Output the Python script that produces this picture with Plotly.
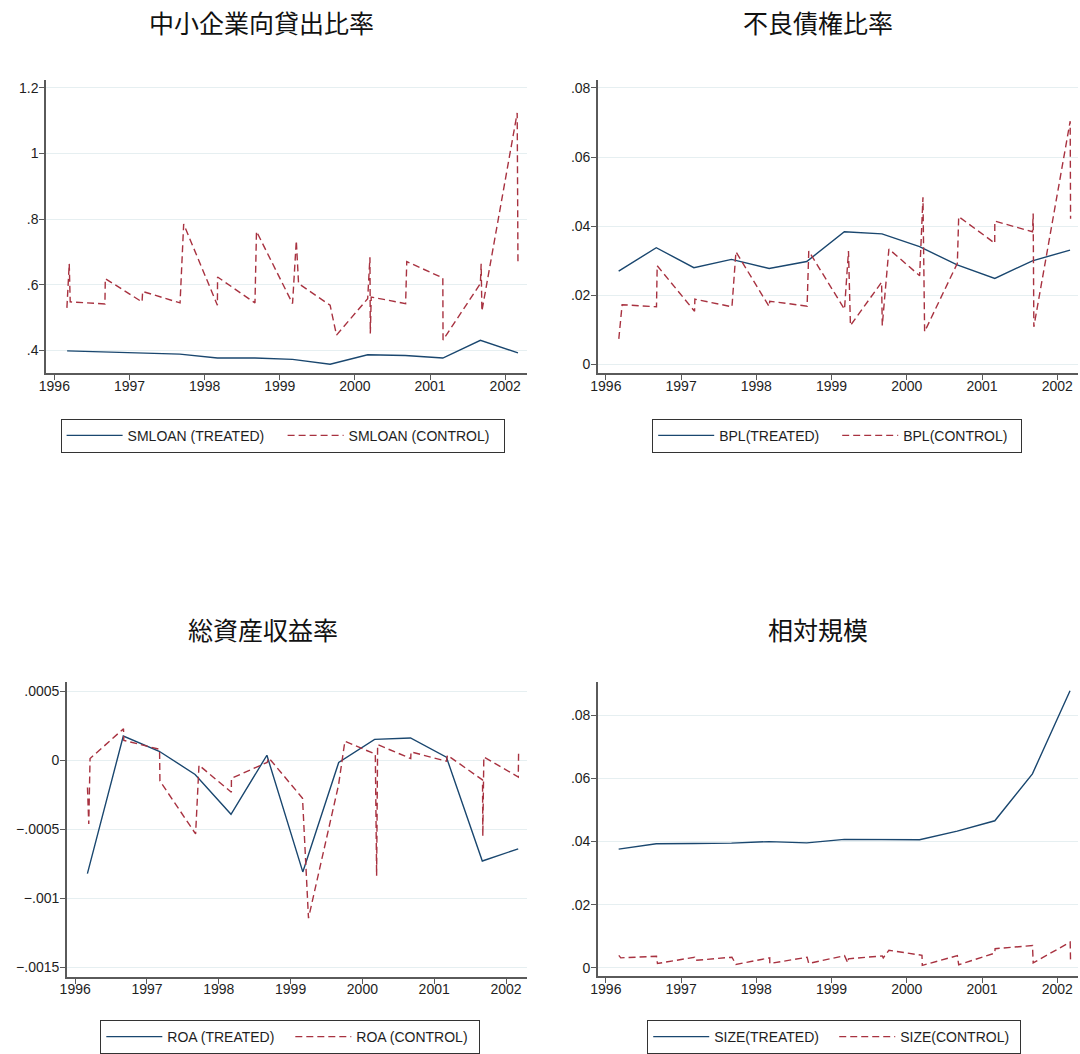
import plotly.graph_objects as go

# ---- data -------------------------------------------------------------
years = [1996, 1997, 1998, 1999, 2000, 2001, 2002]
year_labels = ["1996", "1997", "1998", "1999", "2000", "2001", "2002"]

t_treated = [1996.17, 1996.67, 1997.17, 1997.67, 1998.17, 1998.67, 1999.17,
             1999.67, 2000.17, 2000.67, 2001.17, 2001.67, 2002.17]

# Small and medium enterprise loan ratio
smloan_treated = [0.399, 0.396, 0.392, 0.389, 0.377, 0.377, 0.373,
                  0.358, 0.387, 0.385, 0.377, 0.431, 0.393]
smloan_control_t = [1996.167, 1996.198, 1996.211, 1996.673, 1996.678, 1997.167, 1997.175,
                    1997.673, 1997.721, 1998.170, 1998.172, 1998.670, 1998.690, 1999.170,
                    1999.220, 1999.250, 1999.670, 1999.755, 2000.170, 2000.200, 2000.205,
                    2000.217, 2000.675, 2000.690, 2001.170, 2001.173, 2001.670, 2001.680,
                    2001.690, 2002.160, 2002.170]
smloan_control = [0.530, 0.664, 0.548, 0.542, 0.619, 0.548, 0.580,
                  0.545, 0.785, 0.538, 0.624, 0.545, 0.763, 0.543,
                  0.735, 0.604, 0.538, 0.447, 0.558, 0.684, 0.452,
                  0.563, 0.543, 0.671, 0.621, 0.432, 0.604, 0.664,
                  0.520, 1.124, 0.664]

# Bad loan ratio
bpl_treated = [0.0270, 0.0338, 0.0280, 0.0304, 0.0278, 0.0298, 0.0384,
               0.0378, 0.0341, 0.0288, 0.0249, 0.0300, 0.0331]
bpl_control_t = [1996.172, 1996.216, 1996.673, 1996.682, 1997.179, 1997.183, 1997.676,
                 1997.729, 1998.169, 1998.178, 1998.675, 1998.697, 1999.172, 1999.225,
                 1999.251, 1999.665, 1999.674, 1999.762, 2000.171, 2000.215, 2000.237,
                 2000.672, 2000.690, 2001.169, 2001.170, 2001.671, 2001.680, 2001.689,
                 2002.172, 2002.177]
bpl_control = [0.0074, 0.0173, 0.0167, 0.0286, 0.0154, 0.0189, 0.0167,
               0.0326, 0.0168, 0.0183, 0.0169, 0.0328, 0.0160, 0.0328,
               0.0113, 0.0238, 0.0113, 0.0334, 0.0257, 0.0484, 0.0095,
               0.0293, 0.0428, 0.0351, 0.0415, 0.0384, 0.0437, 0.0109,
               0.0704, 0.0422]

# Return on assets
roa_treated = [-0.000819, 0.000177, 0.000067, -0.000101, -0.000390, 0.000038, -0.000807,
               -0.000014, 0.000153, 0.000163, 0.000024, -0.000728, -0.000640]
roa_control_t = [1996.171, 1996.189, 1996.207, 1996.673, 1996.677, 1997.175, 1997.180,
                 1997.677, 1997.724, 1998.175, 1998.176, 1998.673, 1998.696, 1999.166,
                 1999.249, 1999.668, 1999.756, 2000.180, 2000.198, 2000.212, 2000.673,
                 2000.677, 2001.171, 2001.184, 2001.673, 2001.677, 2001.691, 2002.171,
                 2002.175]
roa_control = [-0.000196, -0.000460, 0.000014, 0.000230, 0.000146, 0.000081, -0.000148,
               -0.000532, -0.000034, -0.000230, -0.000129, -0.000014, 0.000019, -0.000273,
               -0.001142, -0.000177, 0.000139, 0.000046, -0.000836, 0.000115, 0.000014,
               0.000062, -0.000005, 0.000038, -0.000141, -0.000548, 0.000026, -0.000120,
               0.000050]

# Relative size
size_treated = [0.0376, 0.0393, 0.0394, 0.0395, 0.0400, 0.0396, 0.0407,
                0.0407, 0.0406, 0.0433, 0.0466, 0.0615, 0.0879]
size_control_t = [1996.172, 1996.198, 1996.673, 1996.686, 1997.179, 1997.188, 1997.676,
                  1997.729, 1998.178, 1998.179, 1998.675, 1998.697, 1999.172, 1999.216,
                  1999.225, 1999.674, 1999.687, 1999.762, 2000.202, 2000.206, 2000.672,
                  2000.690, 2001.169, 2001.174, 2001.671, 2001.680, 2002.172, 2002.177]
size_control = [0.0039, 0.0031, 0.0036, 0.0013, 0.0033, 0.0023, 0.0033,
                0.0010, 0.0031, 0.0013, 0.0033, 0.0013, 0.0038, 0.0015,
                0.0028, 0.0037, 0.0031, 0.0055, 0.0039, 0.0007, 0.0038,
                0.0009, 0.0046, 0.0060, 0.0070, 0.0015, 0.0081, 0.0017]

titles = ["中小企業向貸出比率", "不良債権比率", "総資産収益率", "相対規模"]
legend_names = [("SMLOAN (TREATED)", "SMLOAN (CONTROL)"),
                ("BPL(TREATED)", "BPL(CONTROL)"),
                ("ROA (TREATED)", "ROA (CONTROL)"),
                ("SIZE(TREATED)", "SIZE(CONTROL)")]

y_ticks = [
    ([0.4, 0.6, 0.8, 1.0, 1.2], [".4", ".6", ".8", "1", "1.2"]),
    ([0, 0.02, 0.04, 0.06, 0.08], ["0", ".02", ".04", ".06", ".08"]),
    ([-0.0015, -0.001, -0.0005, 0, 0.0005], ["\u2212.0015", "\u2212.001", "\u2212.0005", "0", ".0005"]),
    ([0, 0.02, 0.04, 0.06, 0.08], ["0", ".02", ".04", ".06", ".08"]),
]

# ---- layout geometry (pixels) -----------------------------------------
W, H = 1080, 1054
NAVY = "#1a476f"
RED = "#a83240"
AXIS = "#5a5a5a"
GRID = "#e6eff1"
FONT = "Liberation Sans, Arial, sans-serif"
CJK = "Noto Sans CJK JP"

# plot boxes: (left, right, top, bottom) in px
boxes = [(38.3, 522.7, 80, 375), (594.3, 1078.3, 79.3, 375),
         (59.3, 522.7, 686.7, 983.3), (594.3, 1078.3, 686.7, 982.7)]
x_ranges = [[1995.889, 2002.288], [1995.894, 2002.280],
            [1995.884, 2002.290], [1995.894, 2002.280]]
y_ranges = [[0.331, 1.223], [-0.0025, 0.0824],
            [-0.001567, 0.000565], [-0.00274, 0.0905]]
title_pos = [(255, 21), (816, 21), (257, 633), (816, 633)]
# legend: left px, top px, entry width px
legend_pos = [(53, 421, 150), (649, 421, 113), (93, 1027, 118), (644, 1027, 115)]

series = [
    (smloan_treated, smloan_control_t, smloan_control),
    (bpl_treated, bpl_control_t, bpl_control),
    (roa_treated, roa_control_t, roa_control),
    (size_treated, size_control_t, size_control),
]

fig = go.Figure()
layout = dict(
    width=W, height=H,
    margin=dict(l=0, r=0, t=0, b=0),
    paper_bgcolor="white", plot_bgcolor="white",
    font=dict(family=FONT, size=14, color="#1e1e1e"),
    annotations=[],
)

for i in range(4):
    n = "" if i == 0 else str(i + 1)
    xa, ya = "x" + n, "y" + n
    lg = "legend" + n
    tr, ct, cv = series[i]
    fig.add_trace(go.Scatter(x=t_treated, y=tr, mode="lines", name=legend_names[i][0],
                             line=dict(color=NAVY, width=1.4), xaxis=xa, yaxis=ya,
                             legend=lg))
    fig.add_trace(go.Scatter(x=ct, y=cv, mode="lines", name=legend_names[i][1],
                             line=dict(color=RED, width=1.4, dash="7px,4px"),
                             xaxis=xa, yaxis=ya, legend=lg))

    left, right, top, bottom = boxes[i]
    layout["xaxis" + n] = dict(
        domain=[left / W, right / W], anchor=ya, range=x_ranges[i],
        tickmode="array", tickvals=years, ticktext=year_labels,
        showgrid=False, zeroline=False, showline=True, linecolor=AXIS, linewidth=1.5,
        ticks="outside", ticklen=5, tickcolor=AXIS, tickwidth=1.2,
        ticklabelstandoff=-6,
        tickfont=dict(size=14, family=FONT, color="#1e1e1e"),
    )
    layout["yaxis" + n] = dict(
        domain=[1 - bottom / H, 1 - top / H], anchor=xa, range=y_ranges[i],
        tickmode="array", tickvals=y_ticks[i][0], ticktext=y_ticks[i][1],
        showgrid=True, gridcolor=GRID, gridwidth=1, zeroline=False,
        showline=True, linecolor=AXIS, linewidth=1.5,
        ticks="outside", ticklen=5, tickcolor=AXIS, tickwidth=1.2,
        ticklabelstandoff=-2,
        tickfont=dict(size=14, family=FONT, color="#1e1e1e"),
    )
    lx, ly, ew = legend_pos[i]
    layout[lg] = dict(
        x=lx / W, y=1 - ly / H, xanchor="left", yanchor="top",
        orientation="h", bordercolor="#333333", borderwidth=1,
        bgcolor="white", font=dict(size=14, family=FONT, color="#1e1e1e"),
        itemwidth=56, entrywidth=ew, entrywidthmode="pixels", tracegroupgap=0,
    )
    tx, ty = title_pos[i]
    layout["annotations"].append(dict(
        text=titles[i], x=tx / W, y=1 - ty / H, xref="paper", yref="paper",
        xanchor="center", yanchor="middle", showarrow=False,
        font=dict(size=25, family=CJK, color="#111111"),
    ))

fig.update_layout(**layout)
fig.write_html("out.html")
